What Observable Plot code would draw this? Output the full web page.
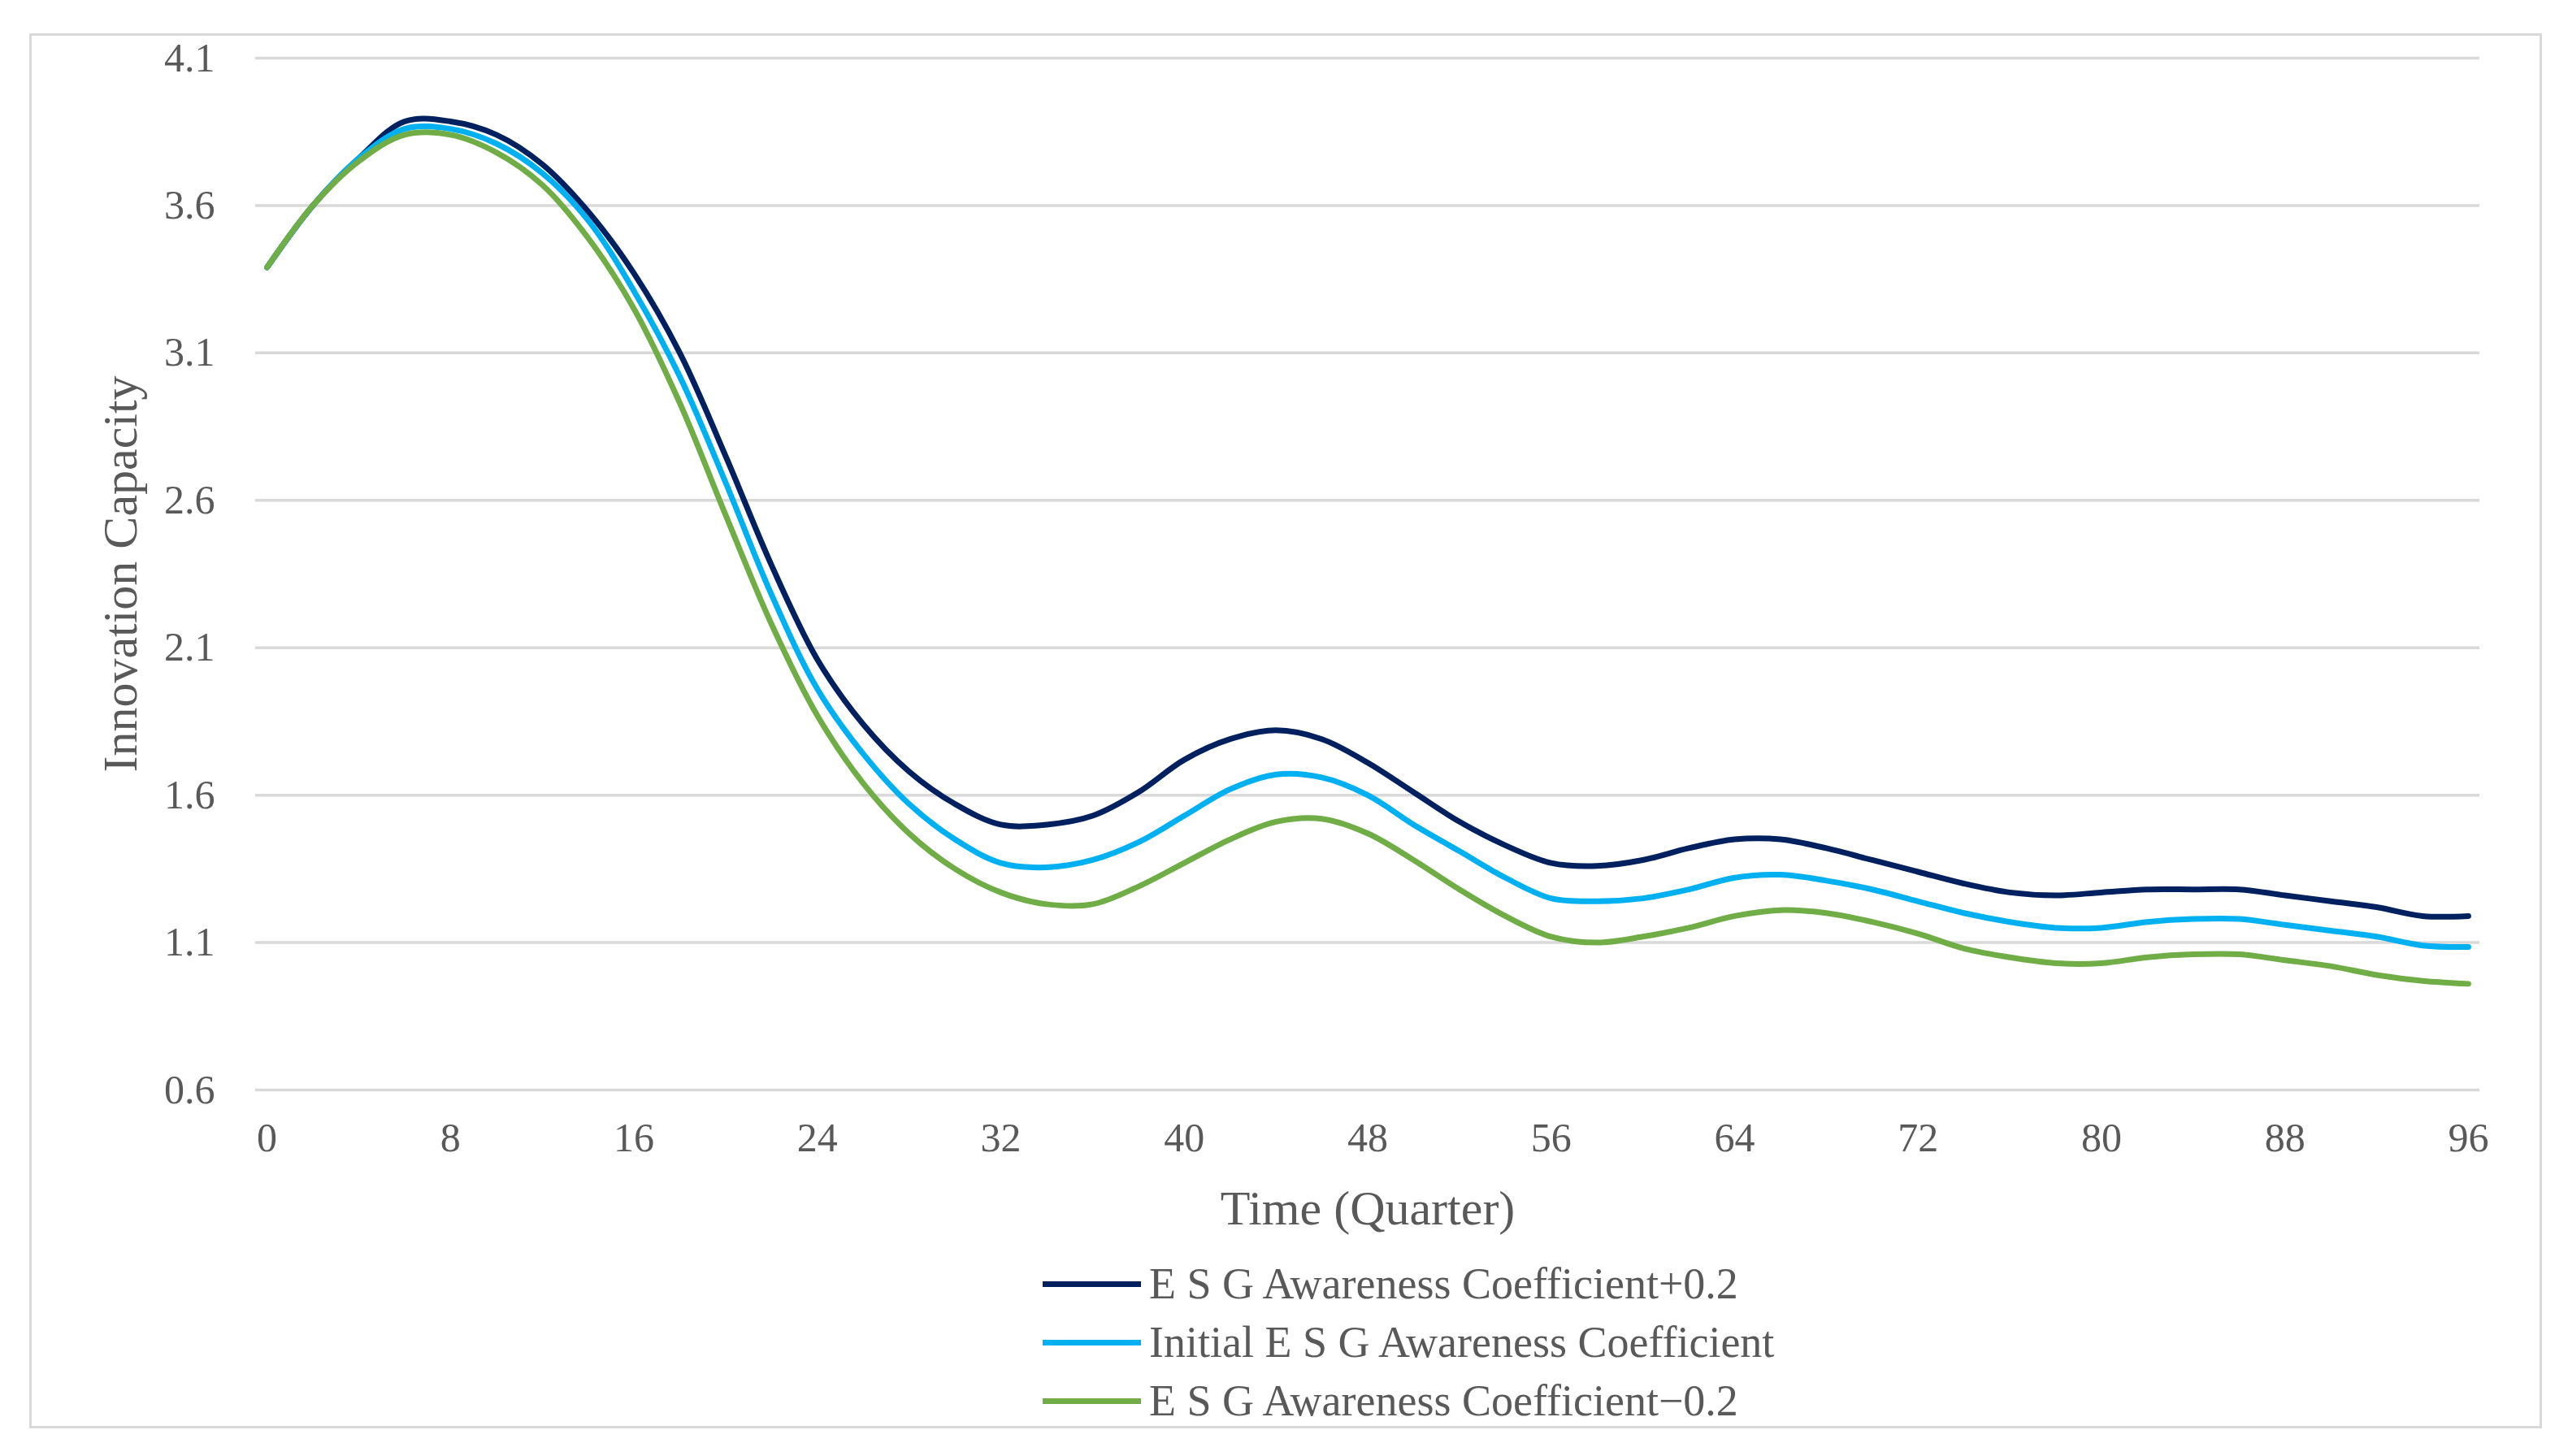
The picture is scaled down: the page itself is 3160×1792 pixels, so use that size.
<!DOCTYPE html>
<html>
<head>
<meta charset="utf-8">
<script src="https://cdn.jsdelivr.net/npm/d3@7"></script>
<script src="https://cdn.jsdelivr.net/npm/@observablehq/plot@0.6"></script>
<style>
  html, body { margin: 0; padding: 0; background: #fff; }
  body { width: 3160px; height: 1792px; position: relative; overflow: hidden; font-family: "Liberation Serif", "Times New Roman", serif; }
  #frame { position: absolute; left: 36px; top: 41px; width: 3086px; height: 1711px; border: 3px solid #d9d9d9; pointer-events: none; }
  #chart { position: absolute; left: 0; top: 0; }
  #legend { position: absolute; left: 1283px; top: 1544px; }
  .row { display: flex; align-items: center; height: 72px; }
  .sw { width: 121px; height: 7px; margin-right: 10px; }
  .lab { font-size: 54px; color: #595959; white-space: nowrap; }
</style>
</head>
<body>
<div id="chart"></div>
<div id="legend"></div>
<div id="frame"></div>
<script>
const quarters = [0,2,4,6,8,10,12,14,16,18,20,22,24,26,28,30,32,34,36,38,40,42,44,46,48,50,52,54,56,58,60,62,64,66,68,70,72,74,76,78,80,82,84,86,88,90,92,94,96];
const plus02 = [3.39,3.60,3.76,3.885,3.885,3.84,3.74,3.58,3.37,3.10,2.75,2.38,2.06,1.84,1.68,1.57,1.50,1.50,1.53,1.61,1.72,1.79,1.82,1.79,1.71,1.61,1.51,1.43,1.37,1.36,1.38,1.42,1.45,1.45,1.42,1.38,1.34,1.30,1.27,1.26,1.27,1.28,1.28,1.28,1.26,1.24,1.22,1.19,1.19];
const initial = [3.39,3.60,3.76,3.86,3.86,3.81,3.71,3.55,3.31,3.02,2.66,2.28,1.96,1.74,1.57,1.45,1.37,1.355,1.38,1.44,1.53,1.62,1.67,1.66,1.60,1.50,1.41,1.32,1.25,1.24,1.25,1.28,1.32,1.33,1.31,1.28,1.24,1.20,1.17,1.15,1.15,1.17,1.18,1.18,1.16,1.14,1.12,1.09,1.085];
const minus02 = [3.39,3.60,3.75,3.84,3.84,3.78,3.67,3.49,3.25,2.93,2.55,2.18,1.87,1.64,1.47,1.35,1.27,1.23,1.23,1.29,1.37,1.45,1.51,1.52,1.47,1.38,1.28,1.19,1.12,1.10,1.12,1.15,1.19,1.21,1.20,1.17,1.13,1.08,1.05,1.03,1.03,1.05,1.06,1.06,1.04,1.02,0.99,0.97,0.96];
const seriesNames = ["E S G Awareness Coefficient+0.2", "Initial E S G Awareness Coefficient", "E S G Awareness Coefficient\u22120.2"];
const seriesColors = ["#002060", "#00B0F0", "#70AD47"];
const xTicks = [0,8,16,24,32,40,48,56,64,72,80,88,96];
const yTicks = [0.6,1.1,1.6,2.1,2.6,3.1,3.6,4.1];
const xTitle = "Time (Quarter)";
const yTitle = "Innovation Capacity";

const allSeries = [plus02, initial, minus02];
const rows = [];
allSeries.forEach((vals, si) => vals.forEach((v, i) => rows.push({t: quarters[i], v, s: seriesNames[si]})));

const W = 3160, H = 1540;
const plotBottom = 1341;
const plot = Plot.plot({
  width: W, height: H,
  marginLeft: 314, marginRight: 109, marginTop: 71, marginBottom: H - plotBottom,
  style: { fontFamily: "Liberation Serif, Times New Roman, serif", color: "#595959", background: "transparent", overflow: "visible" },
  x: { domain: [-0.5, 96.5] },
  y: { domain: [0.6, 4.1] },
  color: { domain: seriesNames, range: seriesColors },
  marks: [
    Plot.gridY(yTicks, { stroke: "#d9d9d9", strokeOpacity: 1, strokeWidth: 3.5 }),
    Plot.axisY(yTicks, { tickSize: 0, tickPadding: 50, fontSize: 50, tickFormat: d3.format(".1f"), label: null, fill: "#595959" }),
    Plot.axisX(xTicks, { tickSize: 0, tickPadding: 40, fontSize: 50, label: null, fill: "#595959" }),
    Plot.line(rows, { x: "t", y: "v", z: "s", stroke: "s", strokeWidth: 7, curve: "catmull-rom" }),
    Plot.text([xTitle], { frameAnchor: "bottom", lineAnchor: "middle", textAnchor: "middle", dy: 146, fontSize: 60, fill: "#595959" }),
    Plot.text([yTitle], { frameAnchor: "left", lineAnchor: "middle", textAnchor: "middle", dx: -166, rotate: -90, fontSize: 60, fill: "#595959" })
  ]
});
document.getElementById("chart").appendChild(plot);

const legend = document.getElementById("legend");
seriesNames.forEach((n, i) => {
  const r = document.createElement("div"); r.className = "row";
  const sw = document.createElement("div"); sw.className = "sw"; sw.style.background = seriesColors[i];
  const lb = document.createElement("div"); lb.className = "lab"; lb.textContent = n;
  r.appendChild(sw); r.appendChild(lb); legend.appendChild(r);
});
</script>
</body>
</html>
